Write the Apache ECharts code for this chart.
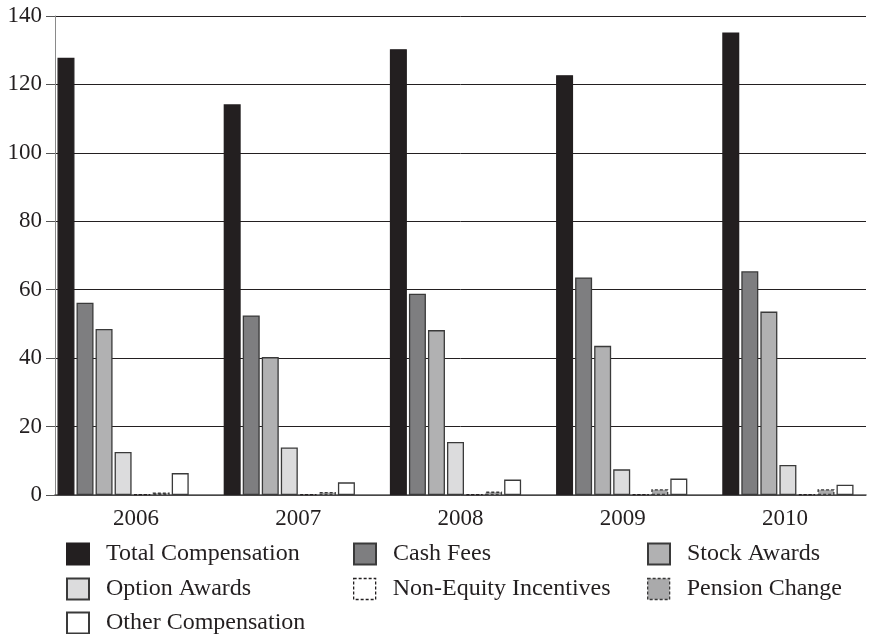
<!DOCTYPE html>
<html>
<head>
<meta charset="utf-8">
<script src="https://cdn.jsdelivr.net/npm/echarts@6/dist/echarts.min.js"></script>
<style>html,body{margin:0;padding:0;background:#fff}#c{width:871px;height:634px}</style>
</head>
<body>
<div id="c"></div>
<script>
var years = ['2006', '2007', '2008', '2009', '2010'];
var yTicks = [0, 20, 40, 60, 80, 100, 120, 140];
var totalComp = [127.8, 114.2, 130.3, 122.7, 135.2];
var cashFees = [56.2, 52.5, 58.8, 63.6, 65.4];
var stockAwards = [48.5, 40.3, 48.2, 43.6, 53.6];
var optionAwards = [12.6, 13.9, 15.5, 7.5, 8.8];
var nonEquity = [0.2, 0.2, 0.2, 0.2, 0.2];
var pensionChange = [0.7, 0.9, 1.0, 1.7, 1.7];
var otherComp = [6.4, 3.7, 4.5, 4.8, 3.0];

var FONT = 'Liberation Serif';
var TXT = '#231f20';
var DASH = [3, 2];

function bar(name, data, fill, border, dashed) {
  return {
    name: name, type: 'bar', xAxisIndex: 1, yAxisIndex: 1,
    data: data, barWidth: 17, barGap: '12%',
    itemStyle: { color: fill, borderColor: border, borderWidth: 1.3, borderType: dashed ? DASH : 'solid' },
    emphasis: { disabled: true }
  };
}

function leg(name, left, top, dashed) {
  var item = { name: name };
  if (dashed) item.itemStyle = { borderType: DASH, borderWidth: 1.3 };
  return {
    orient: 'horizontal', left: left, top: top, padding: 0,
    itemWidth: 22, itemHeight: 21, icon: 'rect', selectedMode: false,
    data: [item],
    textStyle: { fontFamily: FONT, fontSize: 24, color: TXT, lineHeight: 21, padding: [0, 0, 0, 12] }
  };
}

var chart = echarts.init(document.getElementById('c'));
chart.setOption({
  animation: false,
  backgroundColor: '#fff',
  textStyle: { fontFamily: FONT },
  grid: [
    { left: 55, right: 5, top: 16, bottom: 139 },
    { left: 40, width: 841, top: 16, bottom: 139 }
  ],
  legend: [
    leg('Total Compensation', 66, 542),
    leg('Option Awards', 66, 577),
    leg('Other Compensation', 66, 611),
    leg('Cash Fees', 353, 542),
    leg('Non-Equity Incentives', 353, 577, true),
    leg('Stock Awards', 647, 542),
    leg('Pension Change', 647, 577, true)
  ],
  xAxis: [
    {
      gridIndex: 0, type: 'category', data: years,
      axisLine: { lineStyle: { color: '#555', width: 1.6 } },
      axisTick: { show: false },
      axisLabel: { fontFamily: FONT, fontSize: 23, color: TXT, margin: 12 }
    },
    { gridIndex: 1, type: 'category', data: years, show: false }
  ],
  yAxis: [
    {
      gridIndex: 0, type: 'value', min: 0, max: 140, interval: 20,
      axisLine: { show: true, lineStyle: { color: '#8a8a8a', width: 1 } },
      axisTick: { show: true, length: 9, lineStyle: { color: '#555' } },
      splitLine: { show: true, lineStyle: { color: TXT, width: 1 } },
      axisLabel: { fontFamily: FONT, fontSize: 23, color: TXT, margin: 13,
        formatter: function (v) { return yTicks.indexOf(v) >= 0 ? String(v) : ''; } }
    },
    { gridIndex: 1, type: 'value', min: 0, max: 140, show: false }
  ],
  series: [
    bar('Total Compensation', totalComp, '#231f20', '#231f20', false),
    bar('Cash Fees', cashFees, '#7e7e80', '#3a3a3a', false),
    bar('Stock Awards', stockAwards, '#b1b1b2', '#3a3a3a', false),
    bar('Option Awards', optionAwards, '#dcdcdd', '#3a3a3a', false),
    bar('Non-Equity Incentives', nonEquity, '#ffffff', '#231f20', true),
    bar('Pension Change', pensionChange, '#aaaaab', '#3a3a3a', true),
    bar('Other Compensation', otherComp, '#ffffff', '#3a3a3a', false)
  ]
});
</script>
</body>
</html>
